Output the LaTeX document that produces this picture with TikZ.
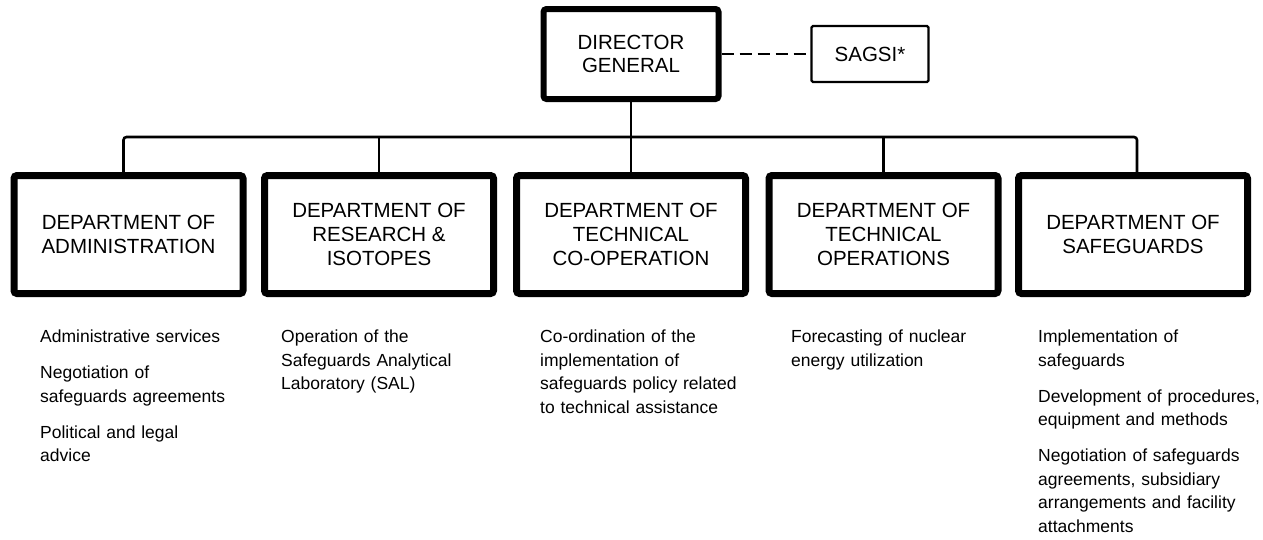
\documentclass[tikz,border=0pt]{standalone}
\usepackage{fontspec}
\setmainfont{Liberation Sans}
\begin{document}
\begin{tikzpicture}[x=1pt,y=-1pt,
  head/.style={draw, line width=6pt, rounded corners=3pt, minimum width=175pt,
    minimum height=90pt, inner sep=0pt, align=center,
    font=\fontsize{20.5}{22.5}\selectfont},
  adviser/.style={draw, line width=2.4pt, rounded corners=1.5pt, minimum width=117pt,
    minimum height=56pt, inner sep=0pt, font=\fontsize{20.5}{23}\selectfont},
  dept/.style={draw, line width=7pt, rounded corners=3pt, minimum width=229pt,
    minimum height=118pt, inner sep=0pt, align=center,
    font=\fontsize{20.5}{24}\selectfont},
  duties/.style={anchor=north west, inner sep=0pt, align=left, text width=225pt,
    font=\fontsize{17.5}{23.5}\selectfont},
  link/.style={line width=2.6pt},
  advice/.style={line width=2pt, dash pattern=on 12pt off 6pt}]
\useasboundingbox (0,0) rectangle (1263,539);

% top of the hierarchy
\node[head] (dg) at (631,54) {DIRECTOR\\GENERAL};
\node[adviser] (sagsi) at (870,54) {SAGSI*};
\draw[advice] (dg.east) -- (sagsi.west);

% departments
\node[dept] (d1) at (128.5,234.5) {DEPARTMENT OF\\ADMINISTRATION};
\node[dept] (d2) at (379,234.5) {DEPARTMENT OF\\RESEARCH \&\\ISOTOPES};
\node[dept] (d3) at (631,234.5) {DEPARTMENT OF\\TECHNICAL\\CO-OPERATION};
\node[dept] (d4) at (883.5,234.5) {DEPARTMENT OF\\TECHNICAL\\OPERATIONS};
\node[dept] (d5) at (1133,234.5) {DEPARTMENT OF\\SAFEGUARDS};

% connecting bus
\coordinate (bus) at (631,137);
\draw[link, rounded corners=3pt] ([xshift=-5pt]d1.north) |- (bus) -| ([xshift=4pt]d5.north);
\draw[link] (dg.south) -- (d3.north);
\draw[link] (d2.north) -- (d2.north |- bus);
\draw[link] (d4.north) -- (d4.north |- bus);

% functions of each department
\node[duties] (f1) at (40,330) {Administrative services\\[12.5pt]
  Negotiation of\\safeguards agreements\\[12.5pt]
  Political and legal\\advice};
\node[duties] (f2) at (281,330) {Operation of the\\Safeguards Analytical\\Laboratory (SAL)};
\node[duties] (f3) at (540,330) {Co-ordination of the\\implementation of\\safeguards policy related\\to technical assistance};
\node[duties] (f4) at (791,330) {Forecasting of nuclear\\energy utilization};
\node[duties] (f5) at (1038,330) {Implementation of\\safeguards\\[12.5pt]
  Development of procedures,\\equipment and methods\\[12.5pt]
  Negotiation of safeguards\\agreements, subsidiary\\arrangements and facility\\attachments};
\end{tikzpicture}
\end{document}
